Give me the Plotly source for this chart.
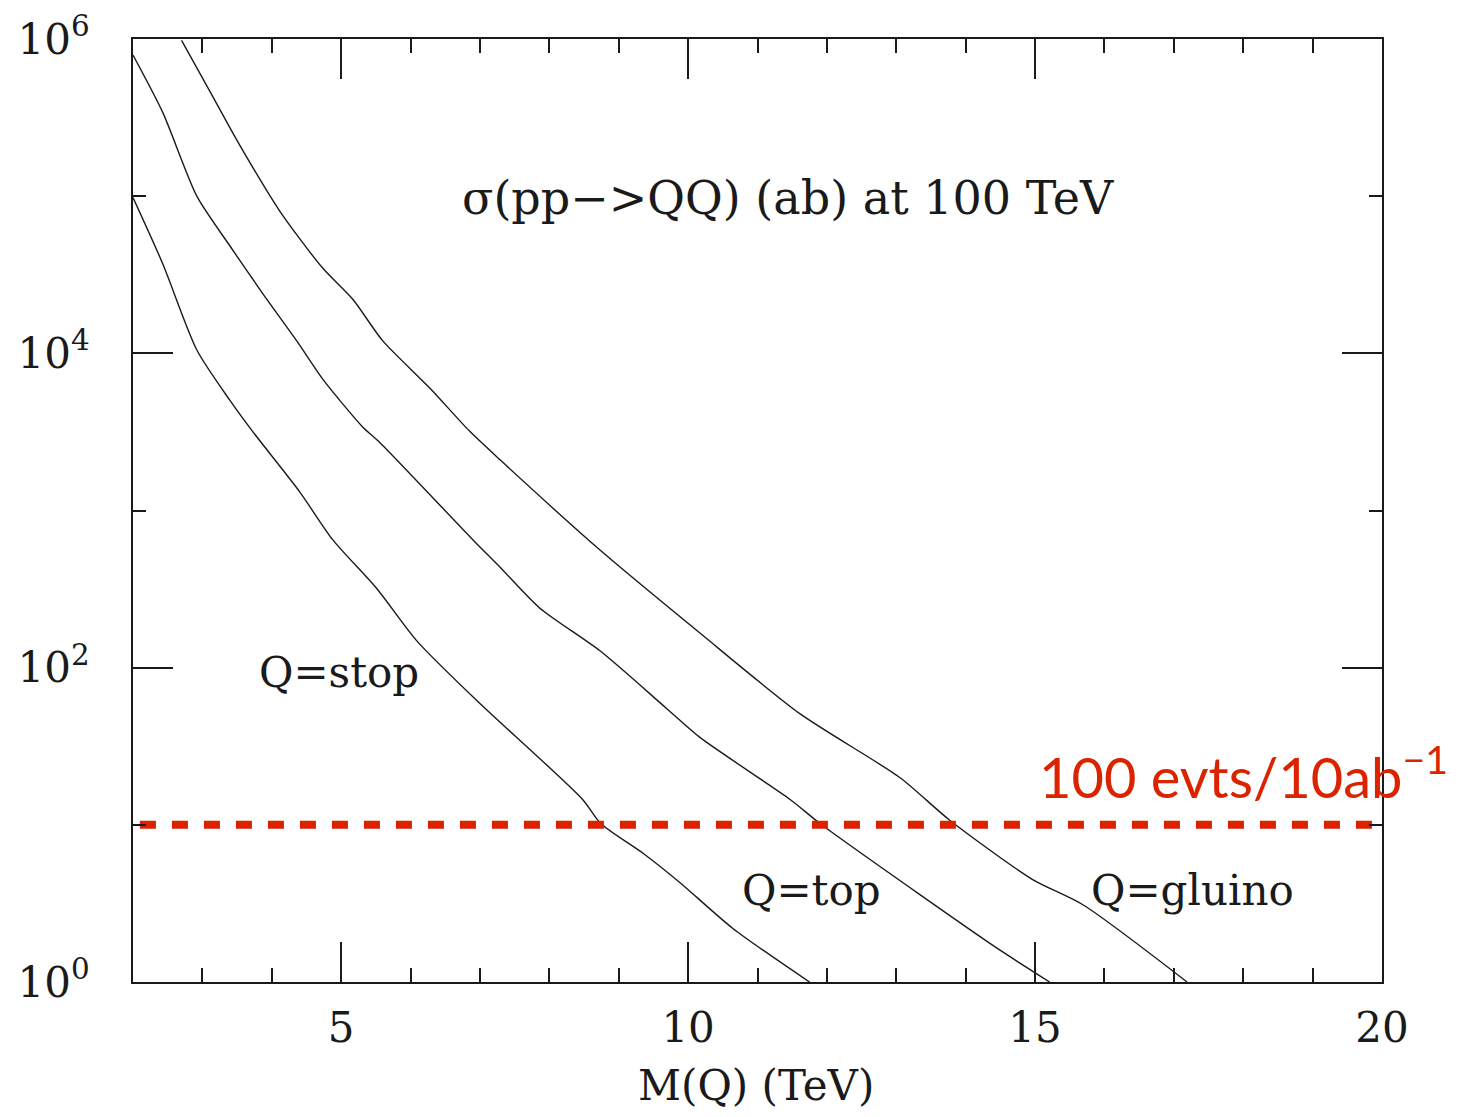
import plotly.graph_objects as go

# ---- data (mass in TeV, sigma in ab) ----
stop_m = [2.00, 2.43, 2.92, 3.40, 3.72, 4.40, 4.88, 5.51, 6.09, 6.95, 7.29, 8.48, 8.74, 9.35, 9.88, 10.64, 11.75]
stop_sigma = [9.8e4, 3.7e4, 1.05e4, 5.0e3, 3.2e3, 1.32e3, 650, 320, 148, 62, 45, 14.5, 10.2, 6.6, 4.3, 2.2, 1.0]

top_m = [2.00, 2.43, 2.92, 3.40, 3.87, 4.36, 4.74, 5.31, 5.56, 6.90, 7.29, 7.86, 8.73, 9.69, 10.17, 11.47, 11.90, 13.34, 14.49, 15.21]
top_sigma = [7.9e5, 3.4e5, 1.0e5, 4.8e4, 2.4e4, 1.2e4, 6.8e3, 3.4e3, 2.7e3, 650, 436, 240, 128, 55, 36, 14.5, 10.2, 3.6, 1.6, 1.0]

gluino_m = [2.70, 3.15, 3.49, 4.11, 4.73, 5.17, 5.60, 6.28, 6.85, 7.29, 8.73, 10.17, 11.61, 13.05, 13.77, 14.96, 15.69, 17.19]
gluino_sigma = [9.8e5, 4.3e5, 2.3e5, 8.1e4, 3.5e4, 2.2e4, 1.2e4, 6.0e3, 3.2e3, 2.1e3, 560, 166, 51, 20, 10.7, 4.5, 3.1, 1.0]

threshold_m = [2.1, 19.86]
threshold_sigma = [10, 10]

y_tickvals = [1, 1e2, 1e4, 1e6]
y_ticktext = ["10<sup>0</sup>", "10<sup>2</sup>", "10<sup>4</sup>", "10<sup>6</sup>"]
y_minorvals = [10, 1e3, 1e5]
x_tickvals = [5, 10, 15, 20]
x_ticktext = ["5", "10", "15", "20"]

SERIF = "DejaVu Serif"
INK = "#1a1a1a"
RED = "#dc2300"

fig = go.Figure()
for m, s in [(stop_m, stop_sigma), (top_m, top_sigma), (gluino_m, gluino_sigma)]:
    fig.add_trace(go.Scatter(x=m, y=s, mode="lines",
                             line=dict(color=INK, width=1.4, shape="spline", smoothing=0.7),
                             showlegend=False, hoverinfo="skip"))

fig.add_trace(go.Scatter(x=threshold_m, y=threshold_sigma, mode="lines",
                         line=dict(color=RED, width=8, dash="16px,16px"),
                         showlegend=False, hoverinfo="skip"))

fig.update_layout(
    width=1455, height=1109,
    margin=dict(l=125, r=81, t=31, b=135, autoexpand=False),
    paper_bgcolor="white", plot_bgcolor="white",
    xaxis=dict(range=[2, 20], showgrid=False, zeroline=False, automargin=False,
               showline=True, linecolor=INK, linewidth=2, mirror="ticks",
               ticks="inside", ticklen=40, tickwidth=2, tickcolor=INK,
               tickmode="array", tickvals=x_tickvals, ticktext=x_ticktext,
               tickfont=dict(family=SERIF, size=42, color=INK),
               ticklabelstandoff=8,
               minor=dict(ticks="inside", dtick=1, tick0=0, ticklen=14,
                          tickwidth=2, tickcolor=INK, showgrid=False)),
    yaxis=dict(type="log", range=[0, 6], showgrid=False, zeroline=False, automargin=False,
               showline=True, linecolor=INK, linewidth=2, mirror="ticks",
               ticks="inside", ticklen=40, tickwidth=2, tickcolor=INK,
               tickmode="array", tickvals=y_tickvals, ticktext=y_ticktext,
               tickfont=dict(family=SERIF, size=42, color=INK),
               ticklabelstandoff=33,
               minor=dict(ticks="inside", tickmode="array", tickvals=y_minorvals,
                          ticklen=13, tickwidth=2, tickcolor=INK, showgrid=False)),
)

ann_font = dict(family=SERIF, size=42, color=INK)
fig.add_annotation(x=11.44, y=4.99, xref="x", yref="y", showarrow=False,
                   text="σ(pp−>QQ) (ab) at 100 TeV", font=dict(family=SERIF, size=46, color=INK))
fig.add_annotation(x=4.97, y=1.97, xref="x", yref="y", showarrow=False,
                   text="Q=stop", font=ann_font)
fig.add_annotation(x=11.78, y=0.58, xref="x", yref="y", showarrow=False,
                   text="Q=top", font=ann_font)
fig.add_annotation(x=17.27, y=0.58, xref="x", yref="y", showarrow=False,
                   text="Q=gluino", font=ann_font)
fig.add_annotation(x=0.4985, y=-0.1098, xref="paper", yref="paper", showarrow=False,
                   xanchor="center", yanchor="middle",
                   text="M(Q) (TeV)", font=dict(family=SERIF, size=42, color=INK))
fig.add_annotation(x=1.0545, y=1.33, xref="paper", yref="y", xanchor="right",
                   yanchor="middle", showarrow=False,
                   text="100 evts/10ab<sup>−1</sup>",
                   font=dict(family="Lato", size=56, color=RED))

fig.write_html("out.html")
